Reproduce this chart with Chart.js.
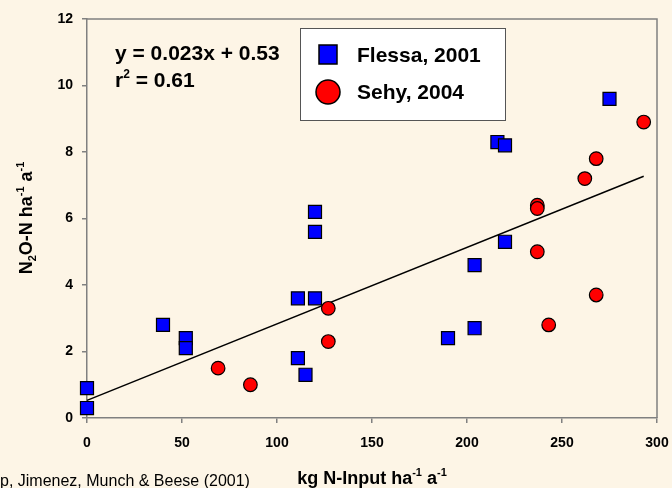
<!DOCTYPE html>
<html><head><meta charset="utf-8">
<script src="https://cdn.jsdelivr.net/npm/chart.js@4.4.0/dist/chart.umd.min.js"></script>
<style>html,body{margin:0;padding:0;background:#FDF5E6;}#wrap{width:672px;height:488px;position:relative;}canvas{display:block;}</style>
</head><body><div id="wrap"><canvas id="c" width="672" height="488" style="width:672px;height:488px;"></canvas></div>
<script>
const flessaX = [0, 0, 40, 52, 52, 111, 120, 120, 120, 111, 115, 190, 204, 204, 220, 216, 220, 275];
const flessaY = [0.9, 0.3, 2.8, 2.4, 2.1, 3.6, 3.6, 6.2, 5.6, 1.8, 1.3, 2.4, 2.7, 4.6, 5.3, 8.3, 8.2, 9.6];
const sehyX = [69, 86, 127, 127, 237, 237, 237, 243, 262, 268, 268, 293];
const sehyY = [1.5, 1.0, 3.3, 2.3, 6.4, 6.3, 5.0, 2.8, 7.2, 7.8, 3.7, 8.9];
const fitSlope = 0.023;
const fitIntercept = 0.53;
const fitRangeX = [0, 293];
const xTicks = [0, 50, 100, 150, 200, 250, 300];
const yTicks = [0, 2, 4, 6, 8, 10, 12];
const seriesNames = ['Flessa, 2001', 'Sehy, 2004'];
const equationText = 'y = 0.023x + 0.53';
const r2Text = ' = 0.61';
const sourceText = 'p, Jimenez, Munch & Beese (2001)';

const FONT = '"Liberation Sans", Arial, sans-serif';

function drawRich(ctx, segs, x, y, align) {
  let total = 0;
  segs.forEach(s => { ctx.font = s.font; total += ctx.measureText(s.t).width; });
  let cx = align === 'center' ? x - total / 2 : x;
  ctx.textAlign = 'left';
  ctx.textBaseline = 'alphabetic';
  segs.forEach(s => {
    ctx.font = s.font;
    ctx.fillText(s.t, cx, y + (s.dy || 0));
    cx += ctx.measureText(s.t).width;
  });
}

const decor = {
  id: 'decor',
  beforeDraw(chart) {
    const ctx = chart.ctx;
    ctx.save();
    ctx.fillStyle = '#FDF5E6';
    ctx.fillRect(0, 0, chart.width, chart.height);
    ctx.restore();
  },
  afterDatasetsDraw(chart) {
    const ctx = chart.ctx;
    const a = chart.chartArea;
    ctx.save();
    ctx.strokeStyle = '#808080';
    ctx.lineWidth = 1.5;
    ctx.beginPath();
    ctx.moveTo(a.left, a.top);
    ctx.lineTo(a.right, a.top);
    ctx.lineTo(a.right, a.bottom);
    ctx.stroke();

    ctx.fillStyle = '#000';
    const B20 = 'bold 21px ' + FONT;
    const B12 = 'bold 12px ' + FONT;
    drawRich(ctx, [{t: equationText, font: B20}], 115, 60, 'left');
    drawRich(ctx, [{t: 'r', font: B20}, {t: '2', font: B12, dy: -9}, {t: r2Text, font: B20}], 115, 87, 'left');

    ctx.fillStyle = '#FFFFFF';
    ctx.fillRect(300, 28, 205, 92);
    ctx.strokeStyle = '#555';
    ctx.lineWidth = 1;
    ctx.strokeRect(300.5, 28.5, 205, 92);
    const ds = chart.data.datasets;
    ctx.lineWidth = 1.5;
    ctx.fillStyle = ds[0].backgroundColor;
    ctx.strokeStyle = '#000';
    ctx.fillRect(319, 45, 18, 19);
    ctx.strokeRect(319, 45, 18, 19);
    ctx.beginPath();
    ctx.fillStyle = ds[1].backgroundColor;
    ctx.arc(328, 92, 12, 0, Math.PI * 2);
    ctx.fill();
    ctx.stroke();
    ctx.fillStyle = '#000';
    const B21 = 'bold 21px ' + FONT;
    drawRich(ctx, [{t: ds[0].label, font: B21}], 357, 62, 'left');
    drawRich(ctx, [{t: ds[1].label, font: B21}], 357, 99, 'left');

    const T = 'bold 18px ' + FONT;
    const S = 'bold 11px ' + FONT;
    drawRich(ctx, [{t: 'kg N-Input ha', font: T}, {t: '-1', font: S, dy: -8}, {t: ' a', font: T}, {t: '-1', font: S, dy: -8}], 372, 484, 'center');
    ctx.save();
    ctx.translate(32, 218);
    ctx.rotate(-Math.PI / 2);
    drawRich(ctx, [{t: 'N', font: T}, {t: '2', font: S, dy: 4}, {t: 'O-N ha', font: T}, {t: '-1', font: S, dy: -8}, {t: ' a', font: T}, {t: '-1', font: S, dy: -8}], 0, 0, 'center');
    ctx.restore();

    drawRich(ctx, [{t: sourceText, font: '16px ' + FONT}], 0, 486, 'left');
    ctx.restore();
  }
};

const flessa = flessaX.map((x, i) => ({x, y: flessaY[i]}));
const sehy = sehyX.map((x, i) => ({x, y: sehyY[i]}));
const fit = fitRangeX.map(x => ({x, y: fitSlope * x + fitIntercept}));

new Chart(document.getElementById('c'), {
  type: 'scatter',
  data: {
    datasets: [
      {label: seriesNames[0], data: flessa, pointStyle: 'rect', pointRadius: 9.2, pointHoverRadius: 9.2,
       backgroundColor: '#0000FF', borderColor: '#000', pointBorderWidth: 1.2, clip: false, order: 1},
      {label: seriesNames[1], data: sehy, pointStyle: 'circle', pointRadius: 6.8, pointHoverRadius: 6.8,
       backgroundColor: '#FF0000', borderColor: '#000', pointBorderWidth: 1.2, clip: false, order: 0},
      {label: 'fit', data: fit, showLine: true, pointRadius: 0, borderColor: '#000', borderWidth: 1.5,
       backgroundColor: '#000', clip: false, order: 2}
    ]
  },
  options: {
    responsive: false,
    maintainAspectRatio: false,
    animation: false,
    devicePixelRatio: 1,
    events: [],
    layout: {padding: {left: 0, top: 19, right: 15, bottom: 0}},
    plugins: {legend: {display: false}, tooltip: {enabled: false}},
    scales: {
      x: {
        type: 'linear', min: 0, max: 300,
        afterFit(s) { s.height = 70; s.paddingRight = 0; s.paddingLeft = 0; },
        afterBuildTicks(s) { s.ticks = xTicks.map(v => ({value: v})); },
        grid: {display: true, drawOnChartArea: false, drawTicks: true, tickLength: 5, color: '#808080', lineWidth: 1.5},
        border: {display: true, color: '#808080', width: 1.5},
        ticks: {color: '#000', font: {family: FONT, size: 14, weight: 'bold'}, padding: 12, maxRotation: 0}
      },
      y: {
        type: 'linear', min: 0, max: 12,
        afterFit(s) { s.width = 87; s.paddingTop = 0; s.paddingBottom = 0; },
        afterBuildTicks(s) { s.ticks = yTicks.map(v => ({value: v})); },
        grid: {display: true, drawOnChartArea: false, drawTicks: true, tickLength: 5, color: '#808080', lineWidth: 1.5},
        border: {display: true, color: '#808080', width: 1.5},
        ticks: {color: '#000', font: {family: FONT, size: 14, weight: 'bold'}, padding: 9}
      }
    }
  },
  plugins: [decor]
});
</script>
</body></html>
